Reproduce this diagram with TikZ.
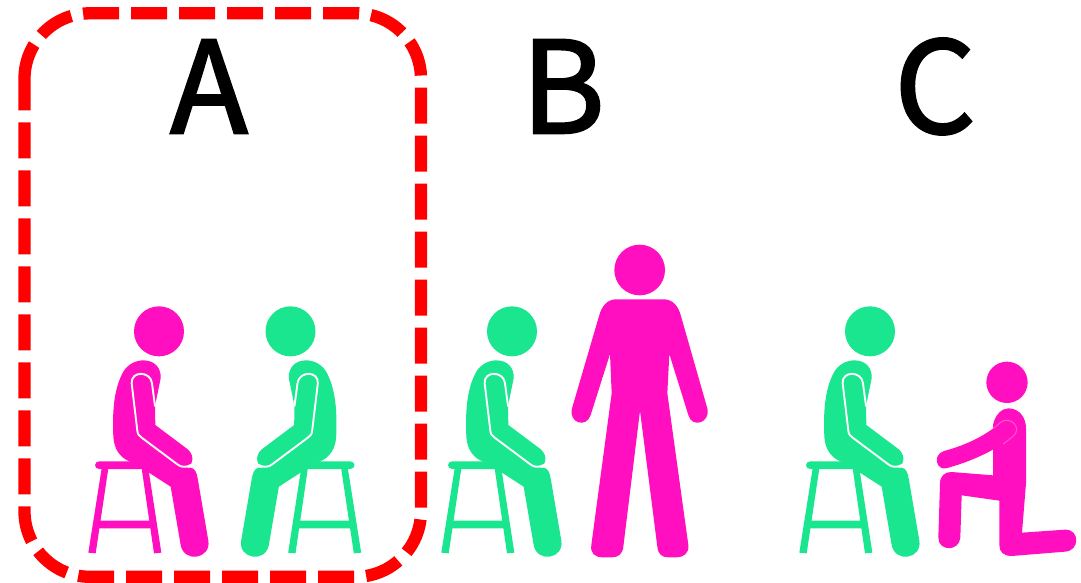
\documentclass[tikz,border=0pt]{standalone}
\usepackage{fontspec}
\newfontfamily\letterfont[FakeBold=2]{Noto Sans CJK JP}
\definecolor{pinkfig}{HTML}{FF0FC0}
\definecolor{greenfig}{HTML}{19E68F}
\tikzset{
  letter/.style={font=\letterfont\fontsize{127}{127}\selectfont,text=black,inner sep=0pt,anchor=base},
  frame/.style={draw=red,line width=12.3pt,dash pattern=on 36pt off 12pt},
  seam/.style={draw=white,line width=1.9pt,line cap=round,line join=round},
}
\newcommand{\seated}[3]{%
\begin{scope}[shift={(#1,300)},xscale=#2,yscale=1/3]
  % stool
  \fill[#3] (58,484) -- (200,484) -- (200,507) -- (58,507) .. controls (41,507) and (41,484) .. (58,484) -- cycle;
  \fill[#3] (65,505) -- (85,505) -- (47,760) -- (25,758) -- cycle;
  \fill[#3] (185,505) -- (205,505) -- (244,758) -- (222,760) -- cycle;
  \fill[#3] (60,662) -- (210,662) -- (214,685) -- (56,685) -- cycle;
  % head
  \fill[#3] (237,94) ellipse [x radius=75,y radius=75];
  % body
  \fill[#3] (190,181) .. controls (225,181) and (244,205) .. (242,235)
    -- (225,318)
    -- (226,375) -- (322,447)
    .. controls (348,468) and (338,503) .. (312,505)
    -- (332,503) .. controls (345,505) and (350,518) .. (353,535)
    -- (385,722)
    .. controls (394,777) and (312,790) .. (302,735)
    -- (272,560) -- (207,518) -- (190,495) -- (150,485)
    .. controls (118,472) and (102,445) .. (100,410)
    .. controls (96,320) and (105,260) .. (130,215)
    .. controls (142,195) and (165,181) .. (190,181) -- cycle;
  % arm outline
  \draw[seam] (225,318) -- (216,250) .. controls (212,212) and (152,212) .. (155,250)
    -- (172,392) .. controls (173,403) and (178,408) .. (185,413)
    -- (292,493) .. controls (302,502) and (320,503) .. (332,495);
\end{scope}}
\begin{document}
\begin{tikzpicture}[x=1pt,y=-1pt]
\useasboundingbox (0,0) rectangle (1081,583);
\fill[white] (0,0) rectangle (1081,583);

\draw[frame] (24.5,78.8) arc[start angle=180,end angle=90,x radius=65.5,y radius=-65.5]
  -- (355.5,13.3) arc[start angle=90,end angle=0,x radius=65.5,y radius=-65.5]
  -- (421,511.3) arc[start angle=0,end angle=-90,x radius=65.5,y radius=-65.5]
  -- (90,576.8) arc[start angle=-90,end angle=-180,x radius=65.5,y radius=-65.5]
  -- cycle;

\node[letter] (labelA) at (209,133) {A};
\node[letter] (labelB) at (563,133) {B};
\node[letter] (labelC) at (935,133) {C};

\seated{80}{1/3}{pinkfig}
\seated{369.5}{-1/3}{greenfig}
\seated{433}{1/3}{greenfig}
\seated{791}{1/3}{greenfig}

% standing figure
\begin{scope}[shift={(560,240)},scale=1/3]
  \fill[pinkfig] (239,90) ellipse [x radius=76,y radius=76];
  \fill[pinkfig] (165,178) -- (315,178)
    .. controls (340,180) and (355,200) .. (362,225)
    -- (442,505) .. controls (452,550) and (395,565) .. (385,525)
    -- (328,342) -- (322,460) -- (385,915)
    .. controls (388,940) and (370,952) .. (350,952)
    -- (325,952) .. controls (305,952) and (294,942) .. (292,920)
    -- (240,512) -- (190,920)
    .. controls (188,942) and (175,952) .. (155,952)
    -- (128,952) .. controls (105,952) and (90,940) .. (94,915)
    -- (155,460) -- (150,342) -- (92,525)
    .. controls (80,565) and (25,550) .. (36,505)
    -- (118,225) .. controls (125,200) and (140,180) .. (165,178) -- cycle;
\end{scope}

% kneeling figure
\begin{scope}[shift={(790,350)},scale=1/3]
  \fill[pinkfig] (651,97) ellipse [x radius=62,y radius=62];
  \fill[pinkfig] (655,175) .. controls (690,175) and (708,205) .. (708,235)
    -- (708,400) -- (696,548) -- (825,539)
    .. controls (870,537) and (870,603) .. (825,605)
    -- (665,618) .. controls (640,618) and (628,605) .. (628,585)
    -- (628,452) -- (515,436) -- (511,563)
    .. controls (508,605) and (445,605) .. (445,563)
    -- (450,400) .. controls (450,378) and (465,365) .. (485,366)
    -- (609,376) -- (609,225) .. controls (615,195) and (635,175) .. (655,175) -- cycle;
  \fill[pinkfig] (632,217) .. controls (590,255) and (530,285) .. (462,303)
    .. controls (425,315) and (440,365) .. (472,354)
    .. controls (540,335) and (610,305) .. (668,260)
    .. controls (700,235) and (660,195) .. (632,217) -- cycle;
  \draw[draw=pinkfig!70!white,line width=1pt,line cap=round] (610,235) -- (632,217)
    .. controls (660,195) and (700,235) .. (668,260) -- (640,282);
\end{scope}
\end{tikzpicture}
\end{document}
